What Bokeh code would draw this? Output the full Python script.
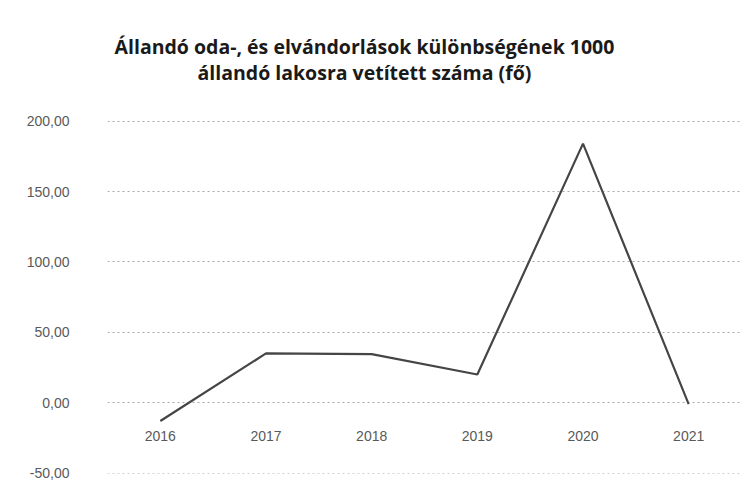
from bokeh.plotting import figure
from bokeh.models import Range1d, FixedTicker, CustomJSTickFormatter, Label
from bokeh.core.properties import value
from bokeh.embed import file_html
from bokeh.resources import INLINE

years = ["2016", "2017", "2018", "2019", "2020", "2021"]
values = [-13.0, 35.0, 34.5, 20.0, 184.0, -1.0]
y_ticks = [-50, 0, 50, 100, 150, 200]
title_lines = ["Állandó oda-, és elvándorlások különbségének 1000",
               "állandó lakosra vetített száma (fő)"]

# frame spans from near the top so the title can sit inside it
p = figure(x_range=years, y_range=Range1d(-50.3, 272.9), width=744, height=487,
           output_backend="svg", toolbar_location=None,
           min_border_left=107, min_border_right=3, min_border_top=18, min_border_bottom=14)
p.outline_line_color = None
p.background_fill_color = "white"

p.xaxis.visible = False
p.xgrid.grid_line_color = None

yax = p.yaxis[0]
yax.ticker = FixedTicker(ticks=y_ticks)
yax.formatter = CustomJSTickFormatter(code="return tick.toFixed(2).replace('.', ',');")
yax.axis_line_color = None
yax.major_tick_line_color = None
yax.minor_tick_line_color = None
yax.major_label_standoff = 32
yax.major_label_text_font = "Liberation Sans"
yax.major_label_text_font_size = "14px"
yax.major_label_text_color = "#595959"

p.ygrid.ticker = FixedTicker(ticks=y_ticks)
p.ygrid.grid_line_color = "#a8a8a8"
p.ygrid.grid_line_dash = "2 3"
p.ygrid.grid_line_width = 1

p.line(x=years, y=values, line_color="#454545", line_width=2.2)

p.text(x=years, y=[0] * len(years), text=years, y_offset=33,
       text_align="center", text_baseline="middle",
       text_font=value("Liberation Sans"), text_font_size="14px", text_color="#595959")

title_x = 2.432
title_y = [253.2, 234.8]
for t, ty in zip(title_lines, title_y):
    p.add_layout(Label(x=title_x, y=ty, text=t, text_align="center", text_baseline="middle",
                       text_font="Open Sans", text_font_style="bold",
                       text_font_size="19.5px", text_color="#1a1a1a"))

open("out.html", "w").write(file_html(p, INLINE))
